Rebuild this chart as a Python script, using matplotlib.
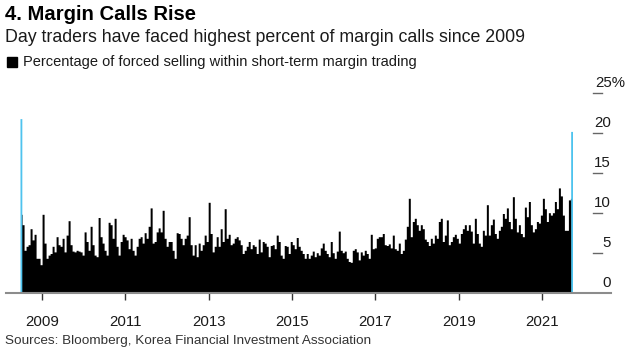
import numpy as np
import pandas as pd
import matplotlib
matplotlib.use('Agg')
import matplotlib.pyplot as plt
import matplotlib.dates as mdates
import matplotlib.transforms as mtransforms
from matplotlib.patches import Rectangle

plt.rcParams['font.family'] = ['Liberation Sans', 'DejaVu Sans']

# peak height of the daily bars, read every ~2 px (Jul 2008 -> Sep 2021), percent
peak_values = [
    9.8, 8.5, 5.3, 5.8, 6.0, 8.0, 6.6, 7.3, 4.3, 4.3, 3.5, 9.8, 6.2, 4.3, 4.7, 4.9, 5.8, 5.1, 7.0, 6.0,
    5.8, 6.8, 5.1, 7.2, 9.0, 6.0, 5.2, 5.1, 5.3, 5.2, 5.1, 4.7, 7.6, 6.4, 5.3, 8.3, 6.0, 4.7, 4.5,
    9.4, 7.0, 6.2, 5.3, 4.7, 8.8, 8.5, 6.8, 9.3, 5.8, 4.7, 6.4, 7.3, 7.0, 6.6, 5.5, 6.8, 5.3, 4.7, 5.8,
    6.8, 7.0, 6.2, 7.5, 6.8, 8.3, 10.6, 6.2, 6.4, 7.6, 8.1, 7.6, 10.3, 6.8, 5.8, 6.4, 6.4, 5.3, 4.3, 7.5,
    7.4, 6.8, 6.0, 6.8, 7.2, 9.5, 6.0, 4.7, 6.0, 4.5, 6.2, 5.3, 6.0, 7.2, 6.4, 11.3, 7.4, 5.1, 5.8, 7.0,
    5.8, 8.0, 6.4, 10.5, 6.8, 7.3, 6.0, 6.2, 6.8, 7.0, 6.6, 6.0, 4.9, 5.3, 5.8, 6.4, 5.5, 6.0, 5.8, 4.9,
    6.7, 5.1, 6.4, 6.2, 5.8, 4.5, 5.9, 6.0, 5.5, 7.2, 6.4, 4.7, 4.3, 5.9, 5.8, 4.9, 6.4, 6.0, 5.5, 6.9,
    5.8, 5.3, 4.9, 4.3, 4.9, 4.3, 4.7, 5.2, 4.5, 5.0, 4.7, 5.6, 6.2, 5.3, 4.9, 4.5, 6.4, 5.0, 4.3, 5.2,
    7.7, 5.3, 5.0, 5.2, 4.3, 3.9, 3.8, 5.3, 5.5, 5.1, 4.1, 5.1, 4.7, 5.3, 4.9, 4.3, 7.3, 5.5, 5.6, 6.8,
    7.0, 7.0, 7.4, 6.0, 5.9, 6.1, 5.6, 7.2, 5.5, 5.3, 6.2, 4.9, 5.3, 6.7, 8.3, 11.8, 7.0, 8.9, 9.3, 8.5,
    7.8, 8.5, 8.0, 6.7, 6.4, 5.9, 6.8, 6.2, 7.2, 6.8, 8.9, 9.3, 6.4, 7.2, 9.1, 6.0, 6.4, 7.0, 7.3, 6.8,
    6.2, 7.4, 8.0, 8.5, 7.8, 8.5, 7.7, 6.2, 9.3, 7.4, 6.2, 5.8, 7.8, 7.2, 11.0, 7.2, 8.5, 9.2, 7.4, 6.8,
    7.8, 8.3, 9.9, 9.3, 10.6, 8.9, 8.0, 12.0, 9.3, 7.6, 8.5, 7.4, 7.0, 10.7, 9.5, 11.4, 8.5, 7.6, 8.0,
    8.9, 8.7, 9.7, 11.8, 10.5, 8.9, 10.0, 9.7, 10.0, 11.4, 10.5, 13.1, 12.1, 9.7, 7.8, 7.8, 11.6, 11.8,
]

# highlighted days (2008 crisis and latest reading)
highlight_dates = ['2008-07-05', '2021-09-20']
highlight_values = [21.7, 20.1]

year_ticks = [2009, 2011, 2013, 2015, 2017, 2019, 2021]
y_ticks = [0, 5, 10, 15, 20, 25]

peak_dates = pd.date_range('2008-07-02', '2021-09-14', periods=len(peak_values))

W, H = 640, 352
fig = plt.figure(figsize=(W / 100, H / 100), dpi=100)

ax_left, ax_right = 6, 611
ax_bottom, ax_top = 292.7, 92.7
ax = fig.add_axes([ax_left / W, 1 - ax_bottom / H,
                   (ax_right - ax_left) / W, (ax_bottom - ax_top) / H])

# one filled skyline so neighbouring bars don't leave antialiasing seams
ax.fill_between(peak_dates, 0, peak_values, step='mid', color='black',
                linewidth=0, zorder=3)
ax.bar(pd.to_datetime(highlight_dates), highlight_values, width=16,
       color='#4ec3ee', linewidth=0, zorder=4, snap=False)

ax.set_xlim(mdates.date2num(pd.Timestamp('2008-02-21')),
            mdates.date2num(pd.Timestamp('2022-08-27')))
ax.set_ylim(0, 25)

for s in ['top', 'right', 'left']:
    ax.spines[s].set_visible(False)
ax.spines['bottom'].set_color('#8c8c8c')
ax.spines['bottom'].set_linewidth(1.5)
ax.spines['bottom'].set_zorder(5)

ax.set_xticks([mdates.date2num(pd.Timestamp(f'{y}-01-01')) for y in year_ticks])
ax.set_xticklabels([str(y) for y in year_ticks], fontsize=10.8, color='#1a1a1a')
ax.tick_params(axis='x', length=5, width=1, color='#333333', pad=11)
ax.set_yticks([])

# y labels sit above short gray lines on the right
blend = mtransforms.blended_transform_factory(ax.transAxes, ax.transData)
lab_tr = mtransforms.offset_copy(blend, fig=fig, y=6, units='dots')
x0 = (593 - ax_left) / (ax_right - ax_left)
x1 = (602 - ax_left) / (ax_right - ax_left)
for v in y_ticks:
    if v > 0:
        ax.plot([x0, x1], [v, v], transform=blend, color='#666666', lw=1, clip_on=False)
    if v == 25:
        ax.text(1.023, v, f'{v}%', transform=lab_tr, ha='right', va='baseline',
                fontsize=10.8, color='#1a1a1a')
    else:
        ax.text(1.0, v, str(v), transform=lab_tr, ha='right', va='baseline',
                fontsize=10.8, color='#1a1a1a')

fig.text(5 / W, 1 - 14 / H, '4. Margin Calls Rise', fontsize=14.6, fontweight='bold',
         ha='left', va='center', color='black')
fig.text(5 / W, 1 - 38 / H, 'Day traders have faced highest percent of margin calls since 2009',
         fontsize=12.8, ha='left', va='center', color='#1a1a1a')
fig.patches.append(Rectangle((7 / W, 1 - 67 / H), 10 / W, 10 / H, color='black',
                             transform=fig.transFigure, figure=fig))
fig.text(23 / W, 1 - 62 / H, 'Percentage of forced selling within short-term margin trading',
         fontsize=10.5, ha='left', va='center', color='#1a1a1a')
fig.text(5 / W, 1 - 341 / H, 'Sources: Bloomberg, Korea Financial Investment Association',
         fontsize=9.7, ha='left', va='center', color='#333333')

fig.savefig('out.png', dpi=100)
